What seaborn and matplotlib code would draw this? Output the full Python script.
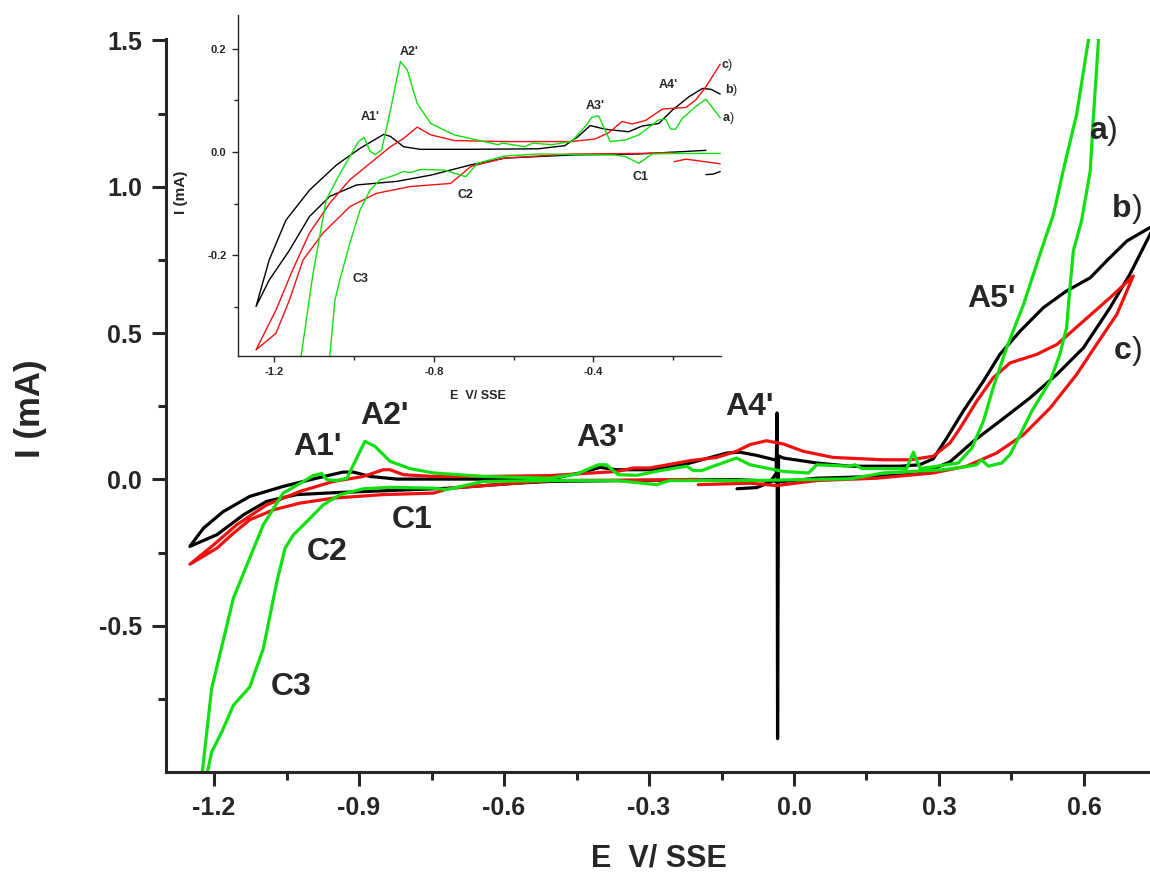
import numpy as np
import pandas as pd
import matplotlib
matplotlib.use("Agg")
import matplotlib.pyplot as plt
import seaborn as sns
from matplotlib.ticker import FixedLocator, FormatStrFormatter

# ---- main voltammograms (E in V vs SSE, I in mA) ----
# a) green: anodic sweep up to the top, then back down
main_a_E = [-1.225, -1.205, -1.160, -1.126, -1.098, -1.057, -1.015, -0.995, -0.977, -0.967,
            -0.946, -0.925, -0.908, -0.888, -0.867, -0.836, -0.795, -0.746, -0.643, -0.505,
            -0.450, -0.405, -0.388, -0.364, -0.325, -0.277, -0.222, -0.208, -0.191, -0.167,
            -0.119, -0.091, -0.022, 0.030, 0.047, 0.116, 0.126, 0.140, 0.233, 0.247,
            0.261, 0.295, 0.340, 0.368, 0.392, 0.412, 0.440, 0.475, 0.509, 0.537,
            0.557, 0.585, 0.609, 0.620,
            0.630, 0.619, 0.613, 0.595, 0.578, 0.571, 0.564, 0.550, 0.530, 0.492,
            0.461, 0.447, 0.430, 0.402, 0.388, 0.378, 0.361, 0.309, 0.185, 0.116,
            -0.091, -0.257, -0.284, -0.367, -0.505, -0.643, -0.719, -0.746, -0.836, -0.891,
            -0.939, -0.974, -1.008, -1.036, -1.053, -1.070, -1.098, -1.126, -1.160, -1.184,
            -1.205, -1.215]
main_a_I = [-1.01, -0.715, -0.406, -0.268, -0.155, -0.047, -0.007, 0.013, 0.020, -0.001,
            -0.004, 0.004, 0.062, 0.130, 0.113, 0.062, 0.037, 0.022, 0.010, 0.004,
            0.018, 0.050, 0.050, 0.016, 0.014, 0.030, 0.045, 0.030, 0.030, 0.045,
            0.073, 0.050, 0.027, 0.022, 0.050, 0.045, 0.050, 0.037, 0.037, 0.093,
            0.037, 0.045, 0.056, 0.107, 0.199, 0.313, 0.450, 0.598, 0.770, 0.907,
            1.055, 1.249, 1.50, 1.58,
            1.50, 1.226, 1.055, 0.884, 0.781, 0.655, 0.518, 0.427, 0.336, 0.233,
            0.130, 0.085, 0.056, 0.045, 0.067, 0.050, 0.045, 0.033, 0.022, 0.002,
            -0.004, -0.004, -0.018, -0.004, -0.004, -0.007, -0.035, -0.030, -0.027, -0.032,
            -0.052, -0.087, -0.144, -0.190, -0.235, -0.349, -0.578, -0.709, -0.772, -0.863,
            -0.932, -1.01]

# b) black: starts near -0.12 V, spike at -0.035 V
main_b_E = [-0.118, -0.077, -0.050, -0.037, -0.035, -0.034, -0.032, -0.022, 0.047, 0.116,
            0.219, 0.260, 0.288, 0.316, 0.350, 0.392, 0.426, 0.468, 0.516, 0.564,
            0.613, 0.647, 0.689, 0.737, 0.745,
            0.737, 0.695, 0.654, 0.599, 0.544, 0.488, 0.426, 0.371, 0.323, 0.280,
            0.254, 0.171, 0.047, -0.022, -0.120, -0.300, -0.505, -0.574, -0.712, -0.850,
            -0.946, -1.029, -1.091, -1.139, -1.194, -1.250,
            -1.222, -1.181, -1.126, -1.057, -0.988, -0.933, -0.912, -0.877, -0.822, -0.712,
            -0.505, -0.443, -0.401, -0.367, -0.298, -0.229, -0.139, -0.112, -0.077, -0.040]
main_b_I = [-0.032, -0.028, -0.010, 0.020, 0.227, -0.886, 0.080, 0.073, 0.056, 0.045,
            0.045, 0.050, 0.070, 0.141, 0.233, 0.336, 0.427, 0.507, 0.587, 0.644,
            0.689, 0.747, 0.815, 0.861, 0.866,
            0.838, 0.701, 0.587, 0.450, 0.359, 0.278, 0.199, 0.130, 0.060, 0.030,
            0.018, 0.010, 0.004, -0.007, -0.001, -0.003, -0.007, -0.013, -0.030, -0.039,
            -0.045, -0.052, -0.075, -0.121, -0.189, -0.229,
            -0.167, -0.110, -0.058, -0.024, 0.004, 0.025, 0.025, 0.010, 0.001, 0.001,
            0.001, 0.022, 0.041, 0.033, 0.033, 0.050, 0.090, 0.093, 0.082, 0.067]

# c) red
main_c_E = [-0.198, -0.091, -0.036, 0.047, 0.171, 0.288, 0.357, 0.419, 0.475, 0.530,
            0.585, 0.626, 0.668, 0.702,
            0.654, 0.599, 0.544, 0.502, 0.447, 0.412, 0.378, 0.344, 0.323, 0.288,
            0.240, 0.185, 0.081, 0.019, -0.022, -0.057, -0.091, -0.119, -0.160, -0.215,
            -0.298, -0.332, -0.367, -0.505, -0.643, -0.746, -0.808, -0.836, -0.850, -0.891,
            -0.953, -1.022, -1.091, -1.153, -1.201, -1.250,
            -1.194, -1.160, -1.126, -1.077, -1.022, -0.953, -0.850, -0.746, -0.712, -0.505,
            -0.300, -0.200]
main_c_I = [-0.018, -0.013, -0.021, -0.004, 0.004, 0.022, 0.045, 0.090, 0.153, 0.244,
            0.359, 0.461, 0.564, 0.695,
            0.621, 0.541, 0.461, 0.427, 0.398, 0.347, 0.267, 0.176, 0.125, 0.079,
            0.067, 0.067, 0.075, 0.096, 0.121, 0.132, 0.119, 0.096, 0.075, 0.064,
            0.039, 0.039, 0.027, 0.013, 0.010, 0.010, 0.016, 0.033, 0.033, 0.010,
            -0.007, -0.041, -0.087, -0.155, -0.224, -0.290,
            -0.235, -0.184, -0.138, -0.104, -0.081, -0.064, -0.052, -0.047, -0.030, -0.004,
            -0.002, 0.000]

# ---- inset (zoom on the low-potential region) ----
ins_a_fwd_E = [-1.133, -1.103, -1.070, -1.044, -1.011, -0.989, -0.975, -0.960, -0.947, -0.931,
               -0.909, -0.884, -0.867, -0.842, -0.808, -0.749, -0.691, -0.640, -0.627, -0.573,
               -0.552, -0.505, -0.455, -0.421, -0.404, -0.387, -0.358, -0.320, -0.286, -0.236,
               -0.219, -0.206, -0.194, -0.177, -0.143, -0.118, -0.101, -0.082]
ins_a_fwd_I = [-0.395, -0.235, -0.093, -0.054, -0.009, 0.020, 0.028, 0.001, -0.005, 0.004,
               0.081, 0.175, 0.159, 0.094, 0.055, 0.033, 0.023, 0.014, 0.017, 0.010,
               0.017, 0.014, 0.020, 0.049, 0.067, 0.070, 0.020, 0.023, 0.033, 0.062,
               0.063, 0.044, 0.044, 0.065, 0.088, 0.102, 0.085, 0.066]
ins_a_rev_E = [-0.082, -0.202, -0.253, -0.286, -0.320, -0.345, -0.539, -0.623, -0.691, -0.720,
               -0.775, -0.834, -0.859, -0.876, -0.909, -0.935, -0.960, -0.985, -1.011, -1.036,
               -1.048, -1.061]
ins_a_rev_I = [-0.003, -0.003, -0.004, -0.022, -0.009, -0.006, -0.004, -0.008, -0.022, -0.048,
               -0.035, -0.034, -0.040, -0.038, -0.048, -0.054, -0.074, -0.112, -0.177, -0.248,
               -0.286, -0.395]

ins_b_start_E = [-0.118, -0.100, -0.082]
ins_b_start_I = [-0.044, -0.043, -0.038]
ins_b_loop_E = [-0.118, -0.286, -0.455, -0.623, -0.707, -0.808, -0.893, -0.994, -1.061, -1.112,
                -1.162, -1.213, -1.246,
                -1.213, -1.171, -1.112, -1.044, -0.985, -0.926, -0.909, -0.876, -0.834, -0.707,
                -0.539, -0.472, -0.438, -0.408, -0.371, -0.312, -0.278, -0.236, -0.202, -0.160,
                -0.126, -0.105, -0.082]
ins_b_loop_I = [0.003, -0.004, -0.006, -0.012, -0.025, -0.045, -0.057, -0.064, -0.086, -0.125,
                -0.190, -0.248, -0.299,
                -0.209, -0.132, -0.074, -0.025, 0.007, 0.034, 0.030, 0.010, 0.005, 0.005,
                0.006, 0.012, 0.030, 0.051, 0.044, 0.039, 0.050, 0.055, 0.081, 0.107,
                0.123, 0.121, 0.112]

ins_c_start_E = [-0.198, -0.168, -0.082]
ins_c_start_I = [-0.019, -0.014, -0.023]
ins_c_loop_E = [-0.202, -0.286, -0.455, -0.623, -0.707, -0.758, -0.859, -0.943, -1.011, -1.078,
                -1.128, -1.162, -1.196, -1.246,
                -1.196, -1.154, -1.112, -1.061, -1.011, -0.960, -0.909, -0.876, -0.842, -0.808,
                -0.749, -0.623, -0.455, -0.396, -0.362, -0.328, -0.303, -0.269, -0.227, -0.168,
                -0.143, -0.118, -0.082]
ins_c_loop_I = [-0.001, -0.003, -0.004, -0.012, -0.028, -0.061, -0.067, -0.080, -0.106, -0.157,
                -0.209, -0.286, -0.351, -0.383,
                -0.306, -0.228, -0.157, -0.099, -0.054, -0.022, 0.010, 0.026, 0.048, 0.033,
                0.022, 0.020, 0.020, 0.025, 0.037, 0.059, 0.054, 0.061, 0.083, 0.086,
                0.101, 0.126, 0.170]

COLORS = {"a": "#10e010", "b": "#000000", "c": "#f01010"}


def to_frame(segments):
    frames = []
    for k, (curve, E, I) in enumerate(segments):
        frames.append(pd.DataFrame({"E": E, "I": I, "curve": curve, "seg": k}))
    return pd.concat(frames, ignore_index=True)


main_df = to_frame([("b", main_b_E, main_b_I),
                    ("c", main_c_E, main_c_I),
                    ("a", main_a_E, main_a_I)])
inset_df = to_frame([("b", ins_b_start_E, ins_b_start_I),
                     ("b", ins_b_loop_E, ins_b_loop_I),
                     ("c", ins_c_start_E, ins_c_start_I),
                     ("c", ins_c_loop_E, ins_c_loop_I),
                     ("a", ins_a_fwd_E, ins_a_fwd_I),
                     ("a", ins_a_rev_E, ins_a_rev_I)])

sns.set_style("ticks")
plt.rcParams["font.family"] = ["Liberation Sans", "DejaVu Sans"]
plt.rcParams["axes.unicode_minus"] = False

fig = plt.figure(figsize=(11.5, 8.76), dpi=100)

# ---- main axes ----
ax = fig.add_axes([0.1441, 0.1187, 0.8559, 0.8368])
sns.lineplot(data=main_df, x="E", y="I", hue="curve", units="seg", estimator=None,
             sort=False, palette=COLORS, lw=2.3, legend=False, ax=ax)
ax.set_xlim(-1.30, 0.7366)
ax.set_ylim(-1.0, 1.505)
ax.xaxis.set_major_locator(FixedLocator([-1.2, -0.9, -0.6, -0.3, 0.0, 0.3, 0.6]))
ax.xaxis.set_minor_locator(FixedLocator([-1.05, -0.75, -0.45, -0.15, 0.15, 0.45]))
ax.yaxis.set_major_locator(FixedLocator([-0.5, 0.0, 0.5, 1.0, 1.5]))
ax.yaxis.set_minor_locator(FixedLocator([-0.75, -0.25, 0.25, 0.75, 1.25]))
ax.xaxis.set_major_formatter(FormatStrFormatter("%.1f"))
ax.yaxis.set_major_formatter(FormatStrFormatter("%.1f"))
ax.tick_params(which="major", direction="out", length=10, width=2.2, labelsize=18, pad=7)
ax.tick_params(which="minor", direction="out", length=5.5, width=2.2)
for lab in ax.get_xticklabels() + ax.get_yticklabels():
    lab.set_fontweight("bold")
sns.despine(ax=ax)
for side in ["left", "bottom"]:
    ax.spines[side].set_linewidth(2.2)

ax.set_xlabel("E  V/ SSE", fontsize=22, fontweight="bold")
ax.set_ylabel("I (mA)", fontsize=25, fontweight="bold")
ax.xaxis.set_label_coords(0.501, -0.097)
ax.yaxis.set_label_coords(-0.121, 0.495)

main_peaks = [("A1'", -0.987, 0.109), ("A2'", -0.848, 0.215), ("C1", -0.790, -0.140),
              ("C2", -0.966, -0.249), ("C3", -1.041, -0.710), ("A3'", -0.401, 0.143),
              ("A4'", -0.093, 0.246), ("A5'", 0.408, 0.618)]
for txt, x, y in main_peaks:
    ax.text(x, y, txt, fontsize=23, fontweight="bold", ha="center", va="center")
for txt, x, y in [("a", 0.648, 1.191), ("b", 0.699, 0.925), ("c", 0.699, 0.440)]:
    ax.text(x, y, txt, fontsize=23, fontweight="bold", ha="right", va="center")
    ax.text(x, y, ")", fontsize=23, ha="left", va="center")

# ---- inset ----
axi = fig.add_axes([0.2067, 0.5936, 0.4203, 0.3893])
axi.set_facecolor("none")
sns.lineplot(data=inset_df, x="E", y="I", hue="curve", units="seg", estimator=None,
             sort=False, palette=COLORS, lw=1.0, legend=False, ax=axi)
axi.set_xlim(-1.292, -0.080)
axi.set_ylim(-0.395, 0.265)
axi.xaxis.set_major_locator(FixedLocator([-1.2, -0.8, -0.4]))
axi.xaxis.set_minor_locator(FixedLocator([-1.0, -0.6, -0.2]))
axi.yaxis.set_major_locator(FixedLocator([-0.2, 0.0, 0.2]))
axi.yaxis.set_minor_locator(FixedLocator([-0.3, -0.1, 0.1]))
axi.xaxis.set_major_formatter(FormatStrFormatter("%.1f"))
axi.yaxis.set_major_formatter(FormatStrFormatter("%.1f"))
axi.tick_params(which="major", direction="out", length=4, width=1.0, labelsize=8, pad=4)
axi.tick_params(which="minor", direction="out", length=3, width=1.0)
for lab in axi.get_xticklabels() + axi.get_yticklabels():
    lab.set_fontweight("bold")
sns.despine(ax=axi)
for side in ["left", "bottom"]:
    axi.spines[side].set_linewidth(1.0)
axi.set_xlabel("E  V/ SSE", fontsize=9, fontweight="bold")
axi.set_ylabel("I (mA)", fontsize=11, fontweight="bold")
axi.xaxis.set_label_coords(0.498, -0.100)
axi.yaxis.set_label_coords(-0.103, 0.481)

inset_peaks = [("A1'", -0.960, 0.067), ("A2'", -0.863, 0.194), ("A3'", -0.396, 0.089),
               ("A4'", -0.212, 0.130), ("C1", -0.282, -0.048), ("C2", -0.720, -0.083),
               ("C3", -0.985, -0.245)]
for txt, x, y in inset_peaks:
    axi.text(x, y, txt, fontsize=9, fontweight="bold", ha="center", va="center")
for txt, x, y in [("c", -0.062, 0.168), ("b", -0.050, 0.119), ("a", -0.058, 0.065)]:
    axi.text(x, y, txt, fontsize=9, fontweight="bold", ha="right", va="center")
    axi.text(x, y, ")", fontsize=9, ha="left", va="center")

fig.savefig("out.png", dpi=100)
